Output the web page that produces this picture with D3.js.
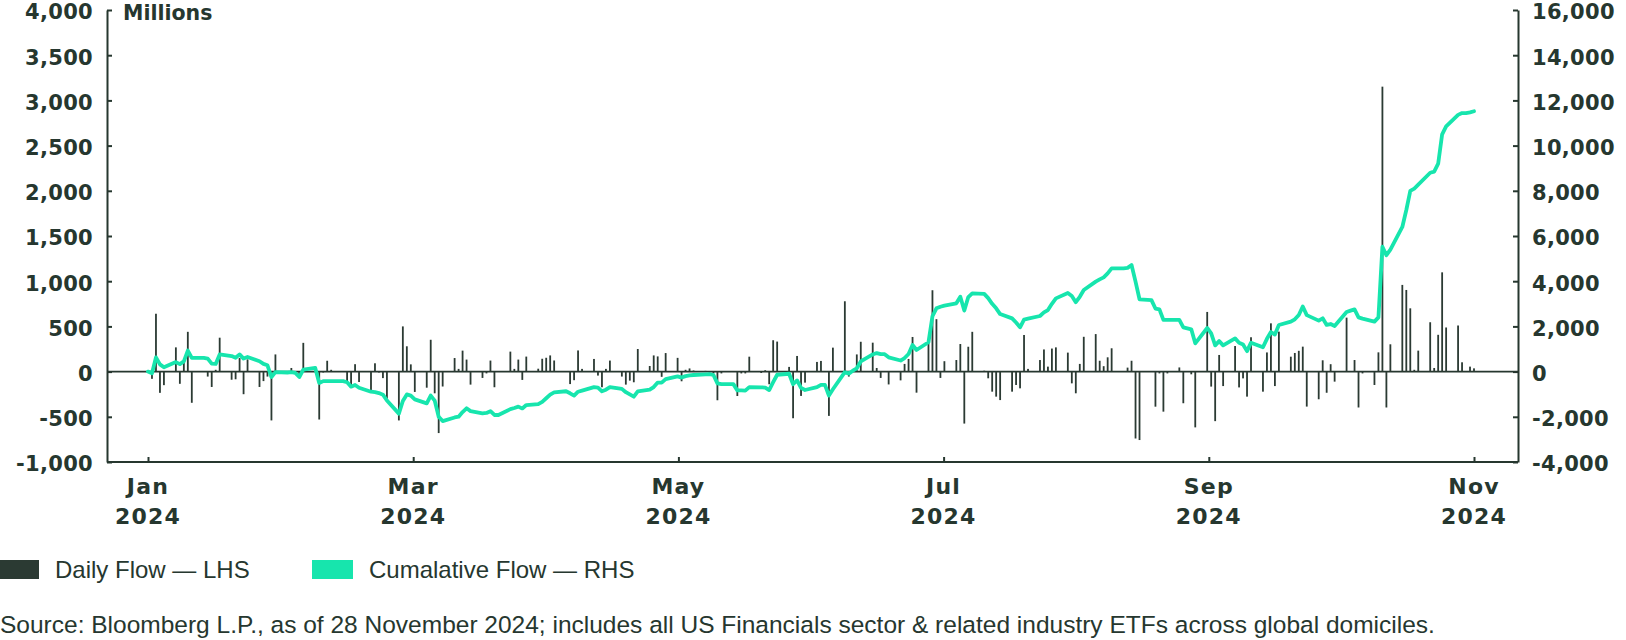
<!DOCTYPE html>
<html>
<head>
<meta charset="utf-8">
<script src="https://cdn.jsdelivr.net/npm/d3@7"></script>
<style>
  html, body { margin: 0; padding: 0; background: #ffffff; }
  svg { display: block; }
</style>
</head>
<body>
<svg id="chart" width="1626" height="640"></svg>
<script>
// ---------------- DATA ----------------
// Weekdays 1 Jan 2024 – 29 Nov 2024, values in USD millions
const startDate = "2024-01-01";
const endDate = "2024-11-29";

const monthsTick = ["Jan", "Mar", "May", "Jul", "Sep", "Nov"];
const yearTick = ["2024", "2024", "2024", "2024", "2024", "2024"];
const leftTicks = [-1000, -500, 0, 500, 1000, 1500, 2000, 2500, 3000, 3500, 4000];
const rightTicks = [-4000, -2000, 0, 2000, 4000, 6000, 8000, 10000, 12000, 14000, 16000];

// Daily Flow (LHS), one value per weekday
const dailyFlow = [
  // Jan
  0, -80, 640, -235, -150, 268, -135, 120, 440, -345, 0, -55, -170, 20, 375, -90, -85, 150, -250, 135, -170, -105, -55,
  // Feb
  -540, 190, -20, 40, -20, -55, 318, 10, -530, -10, 120, 20, 0, -115, -155, 82, -115, -220, 92, -10, -72,
  // Mar
  -300, -540, 500, 280, 80, -225, -178, 352, -240, -680, -165, 150, 30, 232, 133, -144, -70, -20, 122, -173, 0,
  // Apr
  221, 30, 133, -92, 166, 32, 142, 153, 179, 123, 0, -138, -95, 234, 30, 140, -44, -173, 30, 122, -55, -144,
  // May
  -100, -118, 250, 62, 179, 168, -58, 205, 152, -107, 20, 35, 12, 8, -10, -20, -317, -20, 0, -270, -20, -20, 165,
  // Jun
  -15, 15, -140, 347, 332, 52, -516, 173, -269, -122, 107, 118, 0, -490, 265, 778, -55, 20, 190, 330,
  // Jul
  320, 40, -70, 0, -142, -97, 85, 140, 383, -233, 315, 900, 580, -70, 115, 128, 305, -575, 275, 440, 10, -74, -222,
  // Aug
  -277, -315, -222, -148, -185, 405, 30, 128, 245, 55, 255, 268, 210, -130, -240, 85, 385, 415, 120, 60, 158, 258,
  // Sep
  0, 44, 120, -740, -757, 0, -388, -20, -443, -20, 46, -350, 0, -30, -617, 660, -166, -548, 184, -160, 283,
  // Oct
  -175, -75, -277, 380, -222, 212, 534, -160, 442, 165, 206, 230, 276, -387, -306, 125, -234, 82, -111, 597, 0, 128, -397,
  // Nov
  -20, -148, 213, 3152, -397, 302, 959, 903, 700, 20, 232, 546, 40, 407, 1098, 488, 510, 103, 0, 55, 36
];

// Cumulative Flow (RHS), one value per weekday
const cumulativeFlow = [
  // Jan
  0, -75, 630, 320, 190, 420, 330, 450, 930, 610, 610, 575, 350, 340, 760, 685, 610, 760, 575, 645, 460, 340, 280,
  // Feb
  -240, -25, -40, -20, -60, -240, 85, 160, -505, -420, -420, -420, -420, -470, -665, -590, -715, -890, -910, -950, -1020,
  // Mar
  -1280, -1860, -1300, -1010, -1060, -1230, -1405, -1060, -1285, -1995, -2190, -2030, -1995, -1790, -1625, -1750, -1845, -1830, -1750, -1920, -1920,
  // Apr
  -1660, -1610, -1550, -1630, -1480, -1440, -1340, -1180, -1020, -920, -870, -960, -1060, -890, -840, -685, -705, -870, -800, -685, -765, -910,
  // May
  -1010, -1110, -870, -800, -685, -485, -490, -335, -210, -265, -200, -170, -150, -120, -115, -150, -520, -555, -555, -830, -830, -840, -685,
  // Jun
  -695, -705, -815, -470, -140, -95, -560, -390, -720, -815, -690, -590, -590, -1060, -780, -25, -90, 40, 145, 450,
  // Jul
  760, 820, 770, 770, 630, 490, 600, 780, 1175, 955, 1300, 2450, 2800, 2870, 2920, 3020, 3315, 2700, 3300, 3465, 3440, 3250, 3000,
  // Aug
  2800, 2545, 2355, 2170, 1960, 2300, 2340, 2460, 2620, 2725, 3000, 3240, 3480, 3345, 3070, 3310, 3610, 3980, 4080, 4170, 4345, 4570,
  // Sep
  4570, 4590, 4715, 3980, 3200, 3165, 2790, 2755, 2290, 2285, 2285, 1960, 1915, 1870, 1250, 1930, 1690, 1160, 1350, 1160, 1470,
  // Oct
  1280, 1200, 905, 1280, 1075, 1450, 1750, 1640, 2060, 2210, 2315, 2505, 2880, 2500, 2255, 2360, 2065, 2105, 2020, 2640, 2700, 2755, 2400,
  // Nov
  2345, 2210, 2400, 5525, 5150, 5400, 6400, 7150, 8000, 8100, 8270, 8800, 8850, 9200, 10500, 10850, 11360, 11440, 11440, 11470, 11520
];

const legendLabels = ["Daily Flow \u2014 LHS", "Cumalative Flow \u2014 RHS"];
const sourceText = "Source: Bloomberg L.P., as of 28 November 2024; includes all US Financials sector & related industry ETFs across global domiciles.";

// ---------------- STYLE ----------------
const ink = "#26372f";
const barColor = "#2b3a33";
const lineColor = "#17e5ad";

// ---------------- BUILD ----------------
const parse = d3.utcParse("%Y-%m-%d");
const d0 = parse(startDate), d1 = parse(endDate);
const dates = d3.utcDay.range(d0, d3.utcDay.offset(d1, 1)).filter(d => d.getUTCDay() !== 0 && d.getUTCDay() !== 6);
const data = dates.map((d, i) => ({ date: d, daily: dailyFlow[i], cum: cumulativeFlow[i] }));

const svg = d3.select("#chart");
const plot = { left: 107, right: 1518, top: 10, bottom: 462 };

const x = d3.scaleUtc().domain([d0, d1]).range([148, 1474]);
const yL = d3.scaleLinear().domain([-1000, 4000]).range([plot.bottom, plot.top]);
const yR = d3.scaleLinear().domain([-4000, 16000]).range([plot.bottom, plot.top]);

const fmt = d3.formatLocale({ decimal: ".", thousands: ",", grouping: [3], currency: ["$", ""], minus: "-" }).format(",");

const tickFont = "'DejaVu Sans', sans-serif";

// Left axis
const gL = svg.append("g").attr("transform", `translate(${plot.left},0)`)
  .call(d3.axisLeft(yL).tickValues(leftTicks).tickFormat(fmt).tickSize(-5).tickSizeOuter(0).tickPadding(14));
// Right axis
const gR = svg.append("g").attr("transform", `translate(${plot.right},0)`)
  .call(d3.axisRight(yR).tickValues(rightTicks).tickFormat(fmt).tickSize(-5).tickSizeOuter(0).tickPadding(14));

[gL, gR].forEach(g => {
  g.select(".domain").attr("stroke", ink).attr("stroke-width", 2);
  g.selectAll(".tick line").attr("stroke", ink).attr("stroke-width", 2);
  g.selectAll(".tick text")
    .attr("dy", "0.42em")
    .attr("fill", ink).style("font-family", tickFont).style("font-weight", "bold")
    .style("font-size", "21px").style("letter-spacing", "0.3px");
});

// Bottom axis
const tickDates = d3.range(6).map(i => new Date(+d0 + i * (d1 - d0) / 5));
svg.append("line")
  .attr("x1", plot.left).attr("x2", plot.right)
  .attr("y1", plot.bottom).attr("y2", plot.bottom)
  .attr("stroke", ink).attr("stroke-width", 2);
const gX = svg.append("g").attr("transform", `translate(0,${plot.bottom})`)
  .call(d3.axisBottom(x).tickValues(tickDates).tickSize(-5).tickFormat(""));
gX.select(".domain").remove();
gX.selectAll(".tick line").attr("stroke", ink).attr("stroke-width", 2);
const xl = svg.append("g");
tickDates.forEach((d, i) => {
  const t = xl.append("text").attr("x", x(d)).attr("text-anchor", "middle")
    .attr("fill", ink).style("font-family", tickFont).style("font-weight", "bold")
    .style("font-size", "22px").style("letter-spacing", "1.2px");
  t.append("tspan").attr("x", x(d)).attr("y", 494).text(monthsTick[i]);
  t.append("tspan").attr("x", x(d)).attr("y", 524).text(yearTick[i]);
});

// "Millions" label
svg.append("text").attr("x", 123).attr("y", 20)
  .attr("fill", ink).style("font-family", tickFont).style("font-weight", "bold")
  .style("font-size", "20.5px").text("Millions");

// Zero line
svg.append("line")
  .attr("x1", plot.left).attr("x2", plot.right)
  .attr("y1", yL(0)).attr("y2", yL(0))
  .attr("stroke", ink).attr("stroke-width", 1.6);

// Bars
const bw = 1.8;
svg.append("g").selectAll("rect").data(data.filter(d => d.daily !== 0)).join("rect")
  .attr("x", d => x(d.date) - bw / 2)
  .attr("width", bw)
  .attr("y", d => yL(Math.max(0, d.daily)))
  .attr("height", d => Math.abs(yL(d.daily) - yL(0)))
  .attr("fill", barColor);

// Cumulative line
const lineGen = d3.line().x(d => x(d.date)).y(d => yR(d.cum)).curve(d3.curveLinear);
svg.append("path").datum(data)
  .attr("d", lineGen)
  .attr("fill", "none")
  .attr("stroke", lineColor)
  .attr("stroke-width", 3.8)
  .attr("stroke-linejoin", "round")
  .attr("stroke-linecap", "round");

// Legend
const legendFont = "'Liberation Sans', Arial, sans-serif";
const lg = svg.append("g");
lg.append("rect").attr("x", 0).attr("y", 560).attr("width", 39).attr("height", 19).attr("fill", barColor);
lg.append("text").attr("x", 55).attr("y", 578).attr("fill", ink)
  .style("font-family", legendFont).style("font-size", "24px").text(legendLabels[0]);
lg.append("rect").attr("x", 312).attr("y", 560).attr("width", 41).attr("height", 19).attr("fill", lineColor);
lg.append("text").attr("x", 369).attr("y", 578).attr("fill", ink)
  .style("font-family", legendFont).style("font-size", "24px").text(legendLabels[1]);

// Source
svg.append("text").attr("x", 0).attr("y", 633).attr("fill", ink)
  .style("font-family", legendFont).style("font-size", "24.5px").text(sourceText);
</script>
</body>
</html>
